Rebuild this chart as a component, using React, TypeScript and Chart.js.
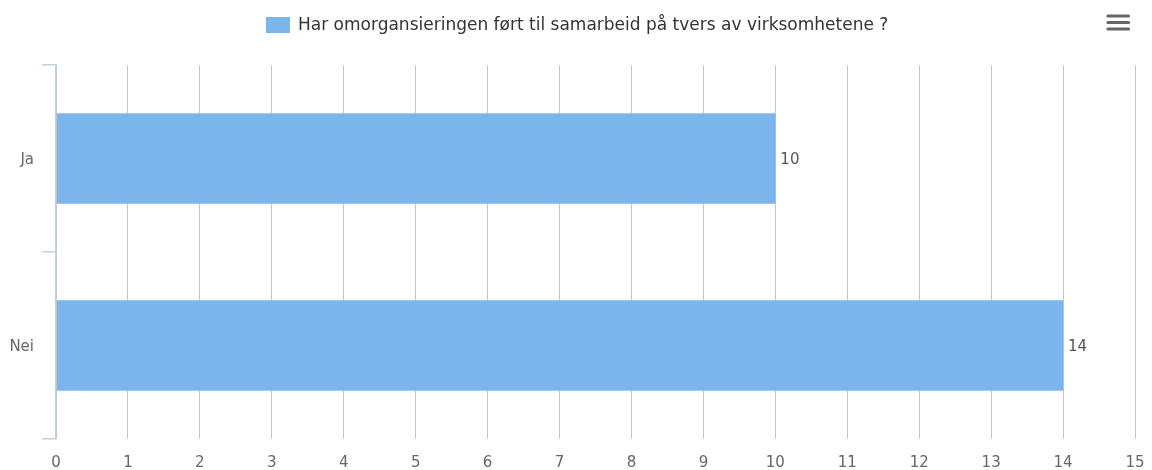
import React, { useEffect, useRef } from "react";
import { Chart, registerables } from "chart.js";

Chart.register(...registerables);

const categories = ["Ja", "Nei"];
const seriesName = "Har omorgansieringen ført til samarbeid på tvers av virksomhetene ?";
const seriesValues = [10, 14];
const xMin = 0;
const xMax = 15;

const FONT = "'DejaVu Sans', sans-serif";

const overlayPlugin = {
  id: "overlay",
  afterDatasetsDraw(chart: any) {
    const ctx = chart.ctx;
    const meta = chart.getDatasetMeta(0);
    ctx.save();
    ctx.font = `15px ${FONT}`;
    ctx.fillStyle = "#555555";
    ctx.textAlign = "left";
    ctx.textBaseline = "middle";
    meta.data.forEach((el: any, i: number) => {
      const v = chart.data.datasets[0].data[i];
      ctx.fillText(String(v), el.x + 5, el.y + 2);
    });
    ctx.restore();
  },
  afterDraw(chart: any) {
    const ctx = chart.ctx;
    ctx.save();
    // legend
    const text = chart.data.datasets[0].label;
    ctx.font = `17px ${FONT}`;
    const tw = ctx.measureText(text).width;
    const total = 24 + 8 + tw;
    const x0 = Math.round(577 - total / 2);
    ctx.fillStyle = chart.data.datasets[0].backgroundColor;
    ctx.fillRect(x0, 17, 24, 16);
    ctx.fillStyle = "#333333";
    ctx.textAlign = "left";
    ctx.textBaseline = "middle";
    ctx.fillText(text, x0 + 32, 25.5);
    // menu icon
    ctx.strokeStyle = "#666666";
    ctx.lineWidth = 3.2;
    ctx.lineCap = "round";
    [16, 22.5, 29].forEach((y) => {
      ctx.beginPath();
      ctx.moveTo(1108, y);
      ctx.lineTo(1128.5, y);
      ctx.stroke();
    });
    ctx.restore();
  },
};

export default function App() {
  const ref = useRef<HTMLCanvasElement | null>(null);
  useEffect(() => {
    if (!ref.current) return;
    const chart = new Chart(ref.current, {
      type: "bar",
      data: {
        labels: categories,
        datasets: [
          {
            label: seriesName,
            data: seriesValues,
            backgroundColor: "#7cb5ec",
            borderWidth: 0,
            categoryPercentage: 1,
            barPercentage: 0.485,
          },
        ],
      },
      options: {
        indexAxis: "y",
        animation: false,
        responsive: false,
        maintainAspectRatio: false,
        layout: { padding: { top: 65, right: 17, left: 0, bottom: 0 } },
        plugins: {
          legend: { display: false },
          tooltip: { enabled: false },
        },
        scales: {
          x: {
            type: "linear",
            min: xMin,
            max: xMax,
            ticks: {
              stepSize: 1,
              color: "#666666",
              font: { family: FONT, size: 15 },
              padding: 15,
            },
            grid: {
              color: "#c4c4c4",
              lineWidth: 1,
              drawTicks: false,
            },
            border: { display: false },
            afterFit: (s: any) => {
              s.height = 31;
              s.paddingLeft = 0;
              s.paddingRight = 0;
            },
          },
          y: {
            type: "category",
            ticks: {
              color: "#666666",
              font: { family: FONT, size: 15 },
              padding: 8,
              labelOffset: 2,
            },
            grid: {
              drawOnChartArea: false,
              drawTicks: true,
              tickLength: 14,
              color: "#c0d0e0",
              lineWidth: 1.5,
              offset: true,
            },
            border: { display: true, color: "#c0d0e0", width: 1.5, z: 1 },
            afterFit: (s: any) => {
              s.width = 56;
              s.paddingTop = 0;
              s.paddingBottom = 0;
            },
          },
        },
      },
      plugins: [overlayPlugin],
    });
    return () => chart.destroy();
  }, []);
  return (
    <div style={{ position: "absolute", left: 0, top: 0, width: 1152, height: 470 }}>
      <canvas ref={ref} width={1152} height={470} />
    </div>
  );
}
